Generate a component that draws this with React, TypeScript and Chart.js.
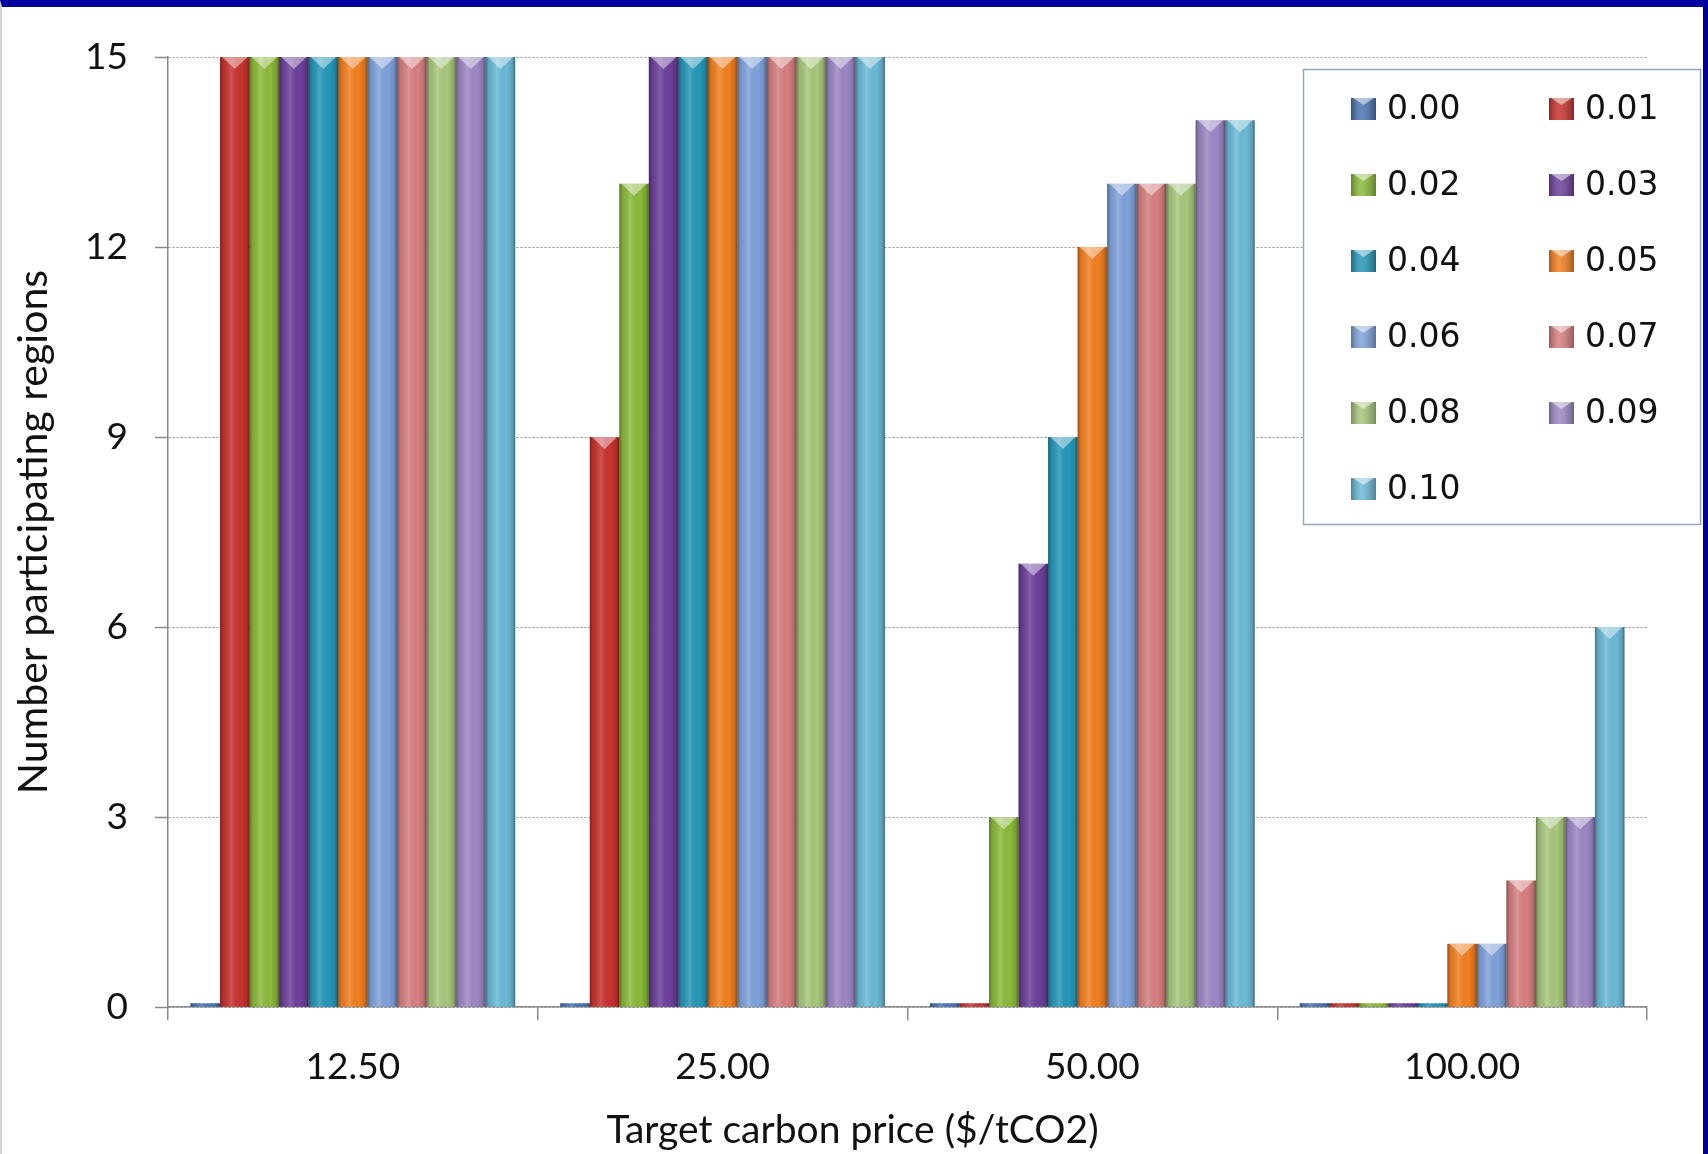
import React, { useEffect, useRef } from 'react';
import { Chart, registerables } from 'chart.js';

Chart.register(...registerables);

// ---------------- data ----------------
const categories = ['12.50', '25.00', '50.00', '100.00'];
const seriesLabels = ['0.00', '0.01', '0.02', '0.03', '0.04', '0.05', '0.06', '0.07', '0.08', '0.09', '0.10'];
const s000 = [0, 0, 0, 0];
const s001 = [15, 9, 0, 0];
const s002 = [15, 13, 3, 0];
const s003 = [15, 15, 7, 0];
const s004 = [15, 15, 9, 0];
const s005 = [15, 15, 12, 1];
const s006 = [15, 15, 13, 1];
const s007 = [15, 15, 13, 2];
const s008 = [15, 15, 13, 3];
const s009 = [15, 15, 14, 3];
const s010 = [15, 15, 14, 6];
const seriesValues = [s000, s001, s002, s003, s004, s005, s006, s007, s008, s009, s010];
const yMin = 0;
const yMax = 15;
const yStep = 3;
const xTitle = 'Target carbon price ($/tCO2)';
const yTitle = 'Number participating regions';

// ---------------- styles ----------------
const seriesColors = [
  '#4a75b4', '#c8342f', '#8cbb3b', '#6e409c', '#2598b9', '#f38020',
  '#80a3dc', '#d78080', '#a8c87c', '#9d88c5', '#6cbbd8',
];
const FONT = 'Lato, "Open Sans", sans-serif';
const LEGEND_FONT = '"DejaVu Sans", Verdana, sans-serif';

const shadePlugin = {
  id: 'cylShade',
  afterDatasetsDraw(chart: any) {
    const ctx = chart.ctx;
    chart.data.datasets.forEach((_ds: any, di: number) => {
      const meta = chart.getDatasetMeta(di);
      if (meta.hidden) return;
      meta.data.forEach((el: any) => {
        const p = el.getProps(['x', 'y', 'base', 'width'], true);
        const left = p.x - p.width / 2;
        const right = p.x + p.width / 2;
        const top = Math.min(p.y, p.base);
        const bottom = Math.max(p.y, p.base);
        const g = ctx.createLinearGradient(left, 0, right, 0);
        g.addColorStop(0, 'rgba(0,0,0,0.38)');
        g.addColorStop(0.1, 'rgba(0,0,0,0.10)');
        g.addColorStop(0.38, 'rgba(255,255,255,0.16)');
        g.addColorStop(0.7, 'rgba(0,0,0,0.0)');
        g.addColorStop(0.9, 'rgba(0,0,0,0.14)');
        g.addColorStop(1, 'rgba(0,0,0,0.42)');
        ctx.save();
        ctx.fillStyle = g;
        ctx.fillRect(left, top, right - left, bottom - top);
        if (bottom - top > 16) {
          ctx.beginPath();
          ctx.moveTo(left + 2, top);
          ctx.lineTo(right - 2, top);
          ctx.lineTo(p.x, top + 12);
          ctx.closePath();
          ctx.fillStyle = 'rgba(255,255,255,0.45)';
          ctx.fill();
        }
        ctx.restore();
      });
    });
  },
};

const boxLegendPlugin = {
  id: 'boxLegend',
  afterDraw(chart: any) {
    const ctx = chart.ctx;
    const boxL = 1301;
    const boxT = 62;
    const boxR = 1698;
    const boxB = 517;
    ctx.save();
    ctx.fillStyle = '#ffffff';
    ctx.fillRect(boxL, boxT, boxR - boxL, boxB - boxT);
    ctx.strokeStyle = '#8ea6c4';
    ctx.lineWidth = 1.5;
    ctx.strokeRect(boxL + 0.5, boxT + 0.5, boxR - boxL, boxB - boxT);
    ctx.font = `33px ${LEGEND_FONT}`;
    ctx.textBaseline = 'middle';
    ctx.textAlign = 'left';
    chart.data.datasets.forEach((ds: any, i: number) => {
      const col = i % 2;
      const row = Math.floor(i / 2);
      const cy = boxT + 40 + row * 76;
      const sx = boxL + 48 + col * 198;
      const sw = 25;
      const sh = 22;
      ctx.fillStyle = ds.backgroundColor;
      ctx.fillRect(sx, cy - sh / 2, sw, sh);
      const g = ctx.createLinearGradient(sx, 0, sx + sw, 0);
      g.addColorStop(0, 'rgba(0,0,0,0.3)');
      g.addColorStop(0.4, 'rgba(255,255,255,0.15)');
      g.addColorStop(1, 'rgba(0,0,0,0.3)');
      ctx.fillStyle = g;
      ctx.fillRect(sx, cy - sh / 2, sw, sh);
      ctx.beginPath();
      ctx.moveTo(sx + 2, cy - sh / 2);
      ctx.lineTo(sx + sw - 2, cy - sh / 2);
      ctx.lineTo(sx + sw / 2, cy - sh / 2 + 7);
      ctx.closePath();
      ctx.fillStyle = 'rgba(255,255,255,0.5)';
      ctx.fill();
      ctx.fillStyle = '#111111';
      ctx.fillText(ds.label, sx + 36, cy + 1);
    });
    ctx.restore();
  },
};

export default function App() {
  const canvasRef = useRef<HTMLCanvasElement | null>(null);

  useEffect(() => {
    document.body.style.margin = '0';
    document.body.style.overflow = 'hidden';
    const canvas = canvasRef.current;
    if (!canvas) return;

    const datasets = seriesLabels.map((label, i) => ({
      label,
      data: seriesValues[i],
      backgroundColor: seriesColors[i],
      borderWidth: 0,
      minBarLength: 4,
      categoryPercentage: 0.878,
      barPercentage: 1.0,
      yAxisID: 'y',
    }));

    const chart = new Chart(canvas, {
      type: 'bar',
      data: { labels: categories, datasets },
      options: {
        animation: false,
        responsive: false,
        maintainAspectRatio: false,
        layout: { padding: { top: 50, right: 0, left: 0, bottom: 0 } },
        plugins: {
          legend: { display: false },
          tooltip: { enabled: false },
          title: {
            display: true,
            position: 'bottom',
            text: xTitle,
            color: '#111111',
            font: { family: FONT, size: 39, weight: 'normal' },
            padding: { top: 0, bottom: 0 },
          },
        },
        scales: {
          x: {
            offset: true,
            grid: {
              display: true,
              offset: true,
              drawOnChartArea: false,
              drawTicks: true,
              tickLength: 13,
              color: '#8a8a8a',
              tickColor: '#8a8a8a',
              lineWidth: 1.5,
            },
            border: { display: true, color: '#8a8a8a', width: 1.5 },
            ticks: {
              color: '#111111',
              font: { family: FONT, size: 37 },
              padding: 25,
              maxRotation: 0,
            },
            afterFit(scale: any) {
              scale.height = 100;
            },
          },
          y: {
            min: yMin,
            max: yMax,
            ticks: {
              stepSize: yStep,
              color: '#111111',
              font: { family: FONT, size: 37 },
              padding: 27,
            },
            grid: {
              color: '#939393',
              lineWidth: 1,
              tickColor: '#8a8a8a',
              tickLength: 13,
              tickWidth: 1.5,
            },
            border: { display: true, color: '#8a8a8a', width: 1.5, dash: [2, 2] },
            title: {
              display: true,
              text: yTitle,
              color: '#111111',
              font: { family: FONT, size: 41, weight: 'normal' },
              padding: { top: 7, bottom: 0 },
            },
            afterFit(scale: any) {
              scale.width = 166;
            },
          },
          yRight: {
            type: 'linear',
            position: 'right',
            display: true,
            grid: { display: false, drawOnChartArea: false },
            border: { display: false },
            ticks: { display: false },
            afterFit(scale: any) {
              scale.width = 56;
            },
          },
        },
      },
      plugins: [shadePlugin, boxLegendPlugin],
    } as any);

    return () => {
      chart.destroy();
    };
  }, []);

  return (
    <div
      style={{
        position: 'relative',
        width: 1708,
        height: 1154,
        boxSizing: 'border-box',
        borderTop: '7px solid #00009c',
        borderRight: '5px solid #00009c',
        borderLeft: '2px solid #d4d4d4',
        background: '#ffffff',
        overflow: 'hidden',
      }}
    >
      <canvas ref={canvasRef} width={1701} height={1147} style={{ display: 'block' }} />
    </div>
  );
}
